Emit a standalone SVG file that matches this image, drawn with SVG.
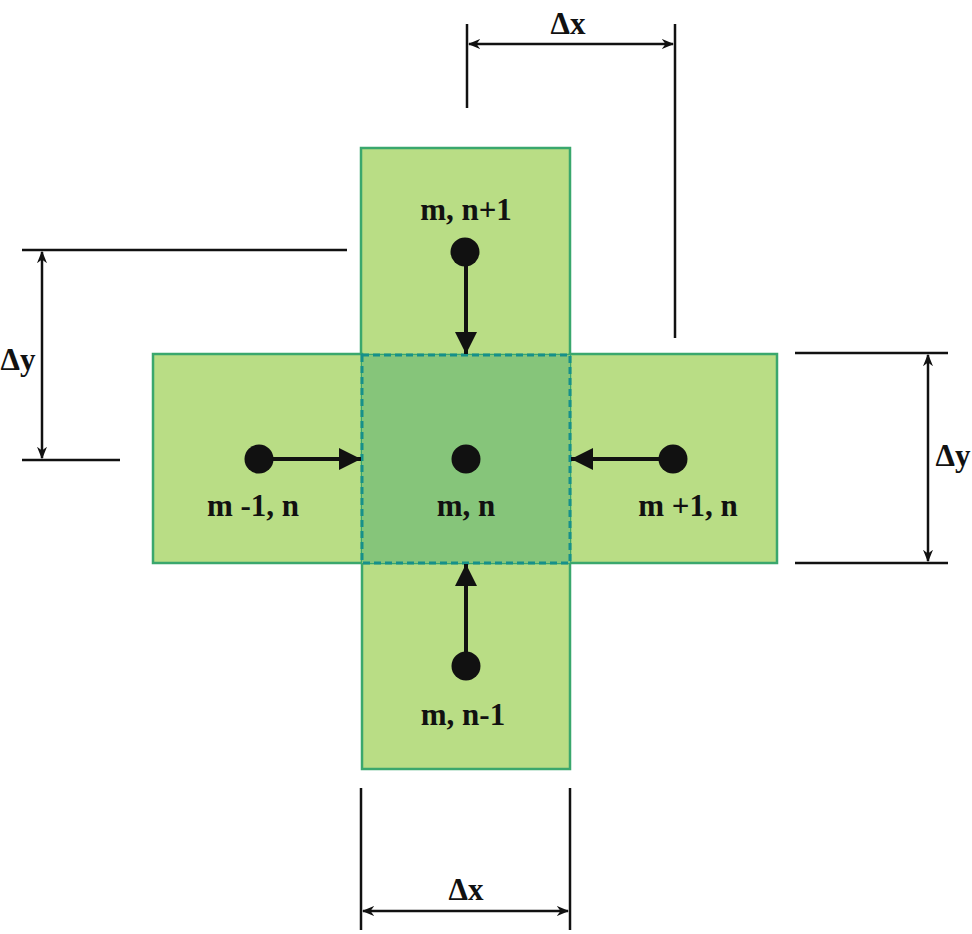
<svg xmlns="http://www.w3.org/2000/svg" width="972" height="934" viewBox="0 0 972 934">
<style>
.cell{fill:#b9dd85;stroke:#3aa76d;stroke-width:2.5}
.center{fill:#86c57a;stroke:#16908a;stroke-width:3;stroke-dasharray:7,4}
.dot{fill:#111}
.lbl{font-family:'Liberation Serif','Times New Roman',serif;font-weight:bold;font-size:31px;fill:#111;text-anchor:middle}
.dim{stroke:#111;stroke-width:2.5;fill:none}
.flow{stroke:#111;stroke-width:4;fill:none;marker-end:url(#ah)}
.darr{stroke:#111;stroke-width:2.5;fill:none;marker-start:url(#dh);marker-end:url(#dh)}
</style>
<defs>
<marker id="ah" viewBox="0 0 10 10" refX="10" refY="5" markerWidth="5.5" markerHeight="5.5" orient="auto-start-reverse" markerUnits="strokeWidth">
<path d="M0,0 L10,5 L0,10 z" fill="#111"/>
</marker>
<marker id="dh" viewBox="0 0 10 10" refX="9" refY="5" markerWidth="5" markerHeight="5" orient="auto-start-reverse" markerUnits="strokeWidth">
<path d="M0,1 L10,5 L0,9 L3,5 z" fill="#111"/>
</marker>
</defs>
<g id="cell-top"><rect class="cell" x="361" y="148" width="209" height="207"/></g>
<g id="cell-left"><rect class="cell" x="153" y="354" width="209" height="209"/></g>
<g id="cell-right"><rect class="cell" x="570" y="354" width="207" height="209"/></g>
<g id="cell-bottom"><rect class="cell" x="362" y="563" width="208" height="206"/></g>
<g id="cell-center"><rect class="center" x="362" y="355" width="208" height="208"/></g>
<g id="connectors">
<line class="flow" x1="466" y1="264" x2="466" y2="354"/>
<line class="flow" x1="272" y1="459" x2="361" y2="459"/>
<line class="flow" x1="660" y1="459" x2="571" y2="459"/>
<line class="flow" x1="466" y1="653" x2="466" y2="564"/>
</g>
<g id="node-top"><circle class="dot" cx="465" cy="252" r="14.5"/><text class="lbl" x="466" y="220">m, n+1</text></g>
<g id="node-left"><circle class="dot" cx="259" cy="459" r="14.5"/><text class="lbl" x="253" y="516">m -1, n</text></g>
<g id="node-center"><circle class="dot" cx="466" cy="459" r="14.5"/><text class="lbl" x="466" y="516">m, n</text></g>
<g id="node-right"><circle class="dot" cx="673" cy="459" r="14.5"/><text class="lbl" x="688" y="516">m +1, n</text></g>
<g id="node-bottom"><circle class="dot" cx="466" cy="666" r="14.5"/><text class="lbl" x="463" y="725">m, n-1</text></g>
<g id="dimensions">
<line class="dim" x1="467" y1="24" x2="467" y2="108"/>
<line class="dim" x1="675" y1="24" x2="675" y2="338"/>
<line class="darr" x1="469" y1="44" x2="673" y2="44"/>
<text class="lbl" x="568" y="34">Δx</text>
<line class="dim" x1="22" y1="250" x2="347" y2="250"/>
<line class="dim" x1="22" y1="460" x2="120" y2="460"/>
<line class="darr" x1="42" y1="252" x2="42" y2="458"/>
<text class="lbl" x="18" y="370">Δy</text>
<line class="dim" x1="795" y1="353" x2="948" y2="353"/>
<line class="dim" x1="795" y1="563" x2="948" y2="563"/>
<line class="darr" x1="928" y1="355" x2="928" y2="561"/>
<text class="lbl" x="953" y="466">Δy</text>
<line class="dim" x1="361" y1="788" x2="361" y2="930"/>
<line class="dim" x1="570" y1="788" x2="570" y2="930"/>
<line class="darr" x1="363" y1="911" x2="568" y2="911"/>
<text class="lbl" x="466" y="900">Δx</text>
</g>
</svg>
